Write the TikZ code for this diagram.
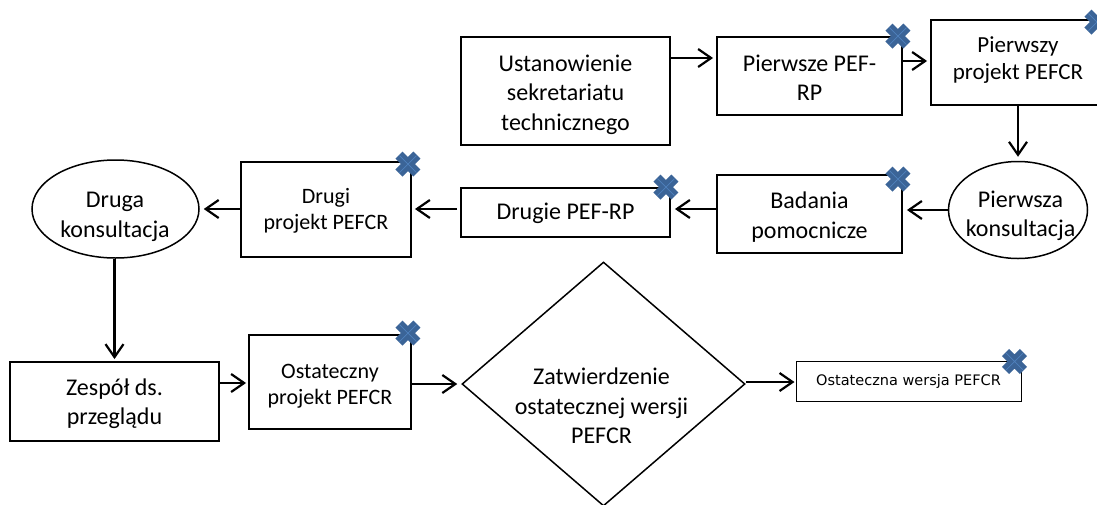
\documentclass[tikz,border=0pt]{standalone}
\usepackage{fontspec}
\setmainfont{Carlito}
\newfontfamily\verdanowa{DejaVu Sans}
\usetikzlibrary{arrows.meta,shapes.geometric}
\definecolor{ciemnyniebieski}{HTML}{3B6497}
\definecolor{jasnyniebieski}{HTML}{4F81BD}
\newcommand{\wys}[1]{\rule{0pt}{#1pt}}
\tikzset{
  pudelko/.style={draw,line width=1.9pt,rectangle,inner sep=0pt,align=center},
  owal/.style={draw,line width=1.5pt,ellipse,inner sep=0pt},
  romb/.style={draw,line width=1.5pt,diamond,inner sep=0pt},
  napis/.style={inner sep=0pt,align=center,font=\fontsize{24}{29.5}\selectfont},
  strz/.style={line width=2.2pt,-{Straight Barb[length=13pt,width=18pt,line width=2.2pt]}},
  krzyzyk/.pic={
    \fill[rotate=45,fill=ciemnyniebieski] (-5,-12.7) -- (5,-12.7) -- (5,-5) -- (12.7,-5) -- (12.7,5) -- (5,5)
      -- (5,12.7) -- (-5,12.7) -- (-5,5) -- (-12.7,5) -- (-12.7,-5) -- (-5,-5) -- cycle;
    \draw[rotate=45,line width=0.7pt,color=jasnyniebieski] (-12,0) -- (12,0) (0,-12) -- (0,12);
  }
}
\begin{document}
\begin{tikzpicture}[x=1pt,y=-1pt]%wspolrzedne w pikselach
\useasboundingbox (0,0) rectangle (1097,504);
\node[pudelko,minimum width=209pt,minimum height=108pt,font=\fontsize{24}{29.5}\selectfont] (ustan) at (565.5,91) {\wys{23.5}Ustanowienie\\sekretariatu\\technicznego};
\node[pudelko,minimum width=185pt,minimum height=78pt,font=\fontsize{24}{29.5}\selectfont] (pierwszeRP) at (809.5,76) {\wys{19.5}Pierwsze PEF-\\RP};
\node[pudelko,minimum width=174pt,minimum height=85pt,font=\fontsize{23}{27.5}\selectfont] (pierwszyP) at (1018,62.5) {Pierwszy\\projekt PEFCR\rule[-8.6pt]{0pt}{1pt}};
\node[owal,minimum width=139pt,minimum height=97pt] (pierwszaK) at (1018,210) {};
\node[napis] (pierwszaKnapis) at (1020.5,216) {Pierwsza\\konsultacja};
\node[pudelko,minimum width=185pt,minimum height=78pt,font=\fontsize{24}{29.5}\selectfont] (badania) at (809.5,214) {\wys{22.5}Badania\\pomocnicze};
\node[pudelko,minimum width=209pt,minimum height=49pt,font=\fontsize{24}{29.5}\selectfont] (drugieRP) at (565.5,212.5) {\wys{19}Drugie PEF-RP};
\node[pudelko,minimum width=170pt,minimum height=95pt,font=\fontsize{22}{26}\selectfont] (drugiP) at (326,209.5) {\wys{18}Drugi\\projekt PEFCR};
\node[owal,minimum width=167pt,minimum height=98pt] (drugaK) at (115.5,209) {};
\node[napis] (drugaKnapis) at (115,217) {Druga\\konsultacja};
\node[pudelko,minimum width=209pt,minimum height=79pt,font=\fontsize{24}{29.5}\selectfont] (zespol) at (114.5,401.5) {\wys{21.5}Zespół ds.\\przeglądu};
\node[pudelko,minimum width=162pt,minimum height=94pt,font=\fontsize{22}{26}\selectfont] (ostatP) at (330,382) {\wys{22}Ostateczny\\projekt PEFCR};
\node[romb,minimum width=283pt,minimum height=244pt] (zatw) at (603.5,384) {};
\node[napis] (zatwnapis) at (601.5,406) {Zatwierdzenie\\ostatecznej wersji\\PEFCR};
\node[pudelko,line width=1pt,minimum width=225pt,minimum height=40pt,font=\verdanowa\fontsize{14.5}{16}\selectfont] (ostatW) at (908.5,381) {Ostateczna wersja PEFCR};
% strzalki
\draw[strz] ([yshift=33pt]ustan.east) -- ([yshift=18pt,xshift=-3pt]pierwszeRP.west);
\draw[strz] ([yshift=15pt]pierwszeRP.east) -- ([yshift=1.5pt,xshift=-3pt]pierwszyP.west);
\draw[strz] (pierwszyP.south) -- ([yshift=4pt]pierwszaK.north);
\draw[strz] (pierwszaK.west) -- ([xshift=4pt,yshift=4pt]badania.east);
\draw[strz] ([yshift=5pt]badania.west) -- ([xshift=4pt,yshift=3.5pt]drugieRP.east);
\draw[strz] ([xshift=-3pt,yshift=3.5pt]drugieRP.west) -- ([xshift=3pt,yshift=0.5pt]drugiP.east);
\draw[strz] ([yshift=0.5pt]drugiP.west) -- ([xshift=4pt]drugaK.east);
\draw[strz] ([xshift=-1pt]drugaK.south) -- ([yshift=2pt]zespol.north);
\draw[strz] ([yshift=18.5pt]zespol.east) -- ([xshift=-2pt,yshift=-1pt]ostatP.west);
\draw[strz] ([yshift=-2pt]ostatP.east) -- ([xshift=-4pt]zatw.west);
\draw[strz] ([yshift=2pt]zatw.east) -- ([xshift=-1pt,yshift=-1pt]ostatW.west);
% krzyzyki
\pic at (pierwszeRP.north east) [xshift=-5pt] {krzyzyk};
\pic at (pierwszyP.north east) [xshift=-9pt,yshift=-3pt] {krzyzyk};
\pic at (badania.north east) [xshift=-5pt,yshift=-5pt] {krzyzyk};
\pic at (drugieRP.north east) [xshift=-5pt] {krzyzyk};
\pic at (drugiP.north east) [xshift=-4pt,yshift=-3pt] {krzyzyk};
\pic at (ostatP.north east) [xshift=-4pt,yshift=1pt] {krzyzyk};
\pic at (ostatW.north east) [xshift=-7pt,yshift=-1pt] {krzyzyk};
\end{tikzpicture}
\end{document}
